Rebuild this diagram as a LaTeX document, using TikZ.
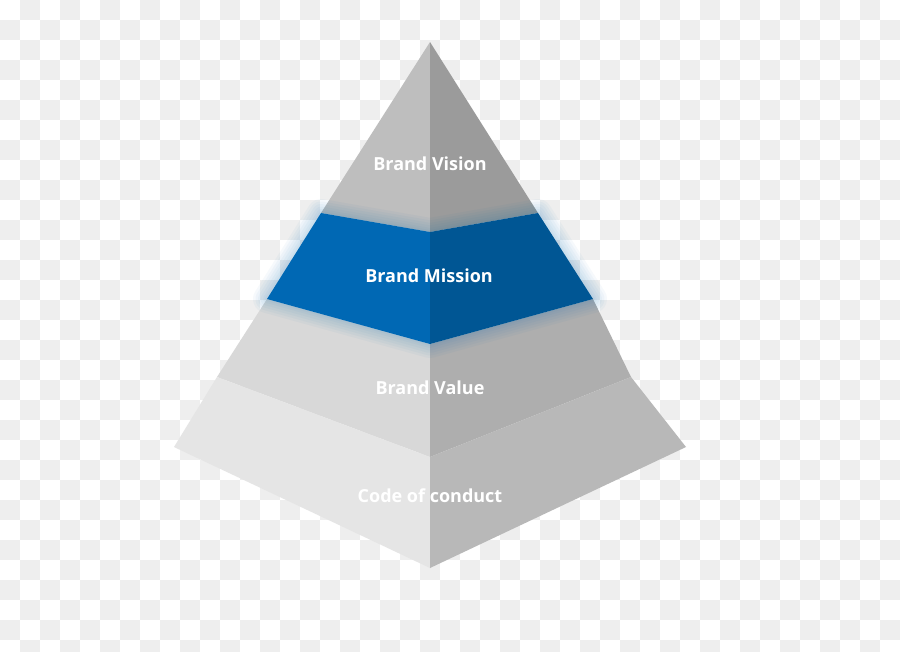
\documentclass[tikz,border=0pt]{standalone}
\usepackage{fontspec}
\setmainfont{Open Sans}
\usepackage{xcolor}
\usetikzlibrary{calc}

\definecolor{fondgris}{RGB}{238,238,238}
\definecolor{visionG}{RGB}{190,190,190}
\definecolor{visionD}{RGB}{155,155,155}
\definecolor{missionG}{RGB}{0,104,180}
\definecolor{missionD}{RGB}{0,86,148}
\definecolor{valueG}{RGB}{216,216,216}
\definecolor{valueD}{RGB}{174,174,174}
\definecolor{codeG}{RGB}{229,229,229}
\definecolor{codeD}{RGB}{184,184,184}

\begin{document}
\begin{tikzpicture}[
		x=1pt, y=-1pt,
		face/.style={line join=round},
		halo/.style={draw=missionG, line join=round},
		etiquette/.style={text=white, anchor=base, inner sep=0pt,
			font=\bfseries\fontsize{18}{21}\selectfont}
		]
		
		% Le cadre et le fond en damier
		\useasboundingbox (0,0) rectangle (900,651);
		\begin{scope}
			\clip (0,0) rectangle (900,651);
			\fill[white] (0,0) rectangle (900,651);
			\foreach \j in {0,2,...,32}
				\foreach \i in {1,3,...,43}
					\fill[fondgris] (\i*20,\j*20) rectangle +(20,20);
			\foreach \j in {1,3,...,31}
				\foreach \i in {0,2,...,44}
					\fill[fondgris] (\i*20,\j*20) rectangle +(20,20);
		\end{scope}
		
		% Les points de la pyramide
		\coordinate (som) at (430,42);
		\coordinate (v1g) at (321,213);
		\coordinate (v1c) at (430,232);
		\coordinate (v1d) at (538,213);
		\coordinate (v2g) at (267,299);
		\coordinate (v2c) at (430,344);
		\coordinate (v2d) at (593,299);
		\coordinate (v3g) at (217,377);
		\coordinate (v3c) at (430,457);
		\coordinate (v3d) at (631,377);
		\coordinate (bg) at (174,447);
		\coordinate (bc) at (430,568);
		\coordinate (bd) at (686,447);
		
		% Les faces grises
		\fill[face, visionG] (som) -- (v1g) -- (v1c) -- cycle;
		\fill[face, visionD] (som) -- (v1c) -- (v1d) -- cycle;
		\fill[face, valueG] (v2g) -- (v3g) -- (v3c) -- (v2c) -- cycle;
		\fill[face, valueD] (v2c) -- (v3c) -- (v3d) -- (v2d) -- cycle;
		\fill[face, codeG] (v3g) -- (bg) -- (bc) -- (v3c) -- cycle;
		\fill[face, codeD] (v3c) -- (bc) -- (bd) -- (v3d) -- cycle;
		
		% Le halo bleu autour de la mission
		\foreach \w in {28,23,18,13,8,4}
			\draw[halo, line width=\w, draw opacity=0.035]
				(v1g) -- (v2g) -- (v2c) -- (v2d) -- (v1d) -- (v1c) -- cycle;
		
		% La bande mission
		\fill[face, missionG] (v1g) -- (v2g) -- (v2c) -- (v1c) -- cycle;
		\fill[face, missionD] (v1c) -- (v2c) -- (v2d) -- (v1d) -- cycle;
		
		% Les textes
		\node[etiquette] (vision) at (430,170) {Brand Vision};
		\node[etiquette] (mission) at (429,282) {Brand Mission};
		\node[etiquette] (value) at (430,394) {Brand Value};
		\node[etiquette] (code) at (430,502) {Code of conduct};
	\end{tikzpicture}
\end{document}
